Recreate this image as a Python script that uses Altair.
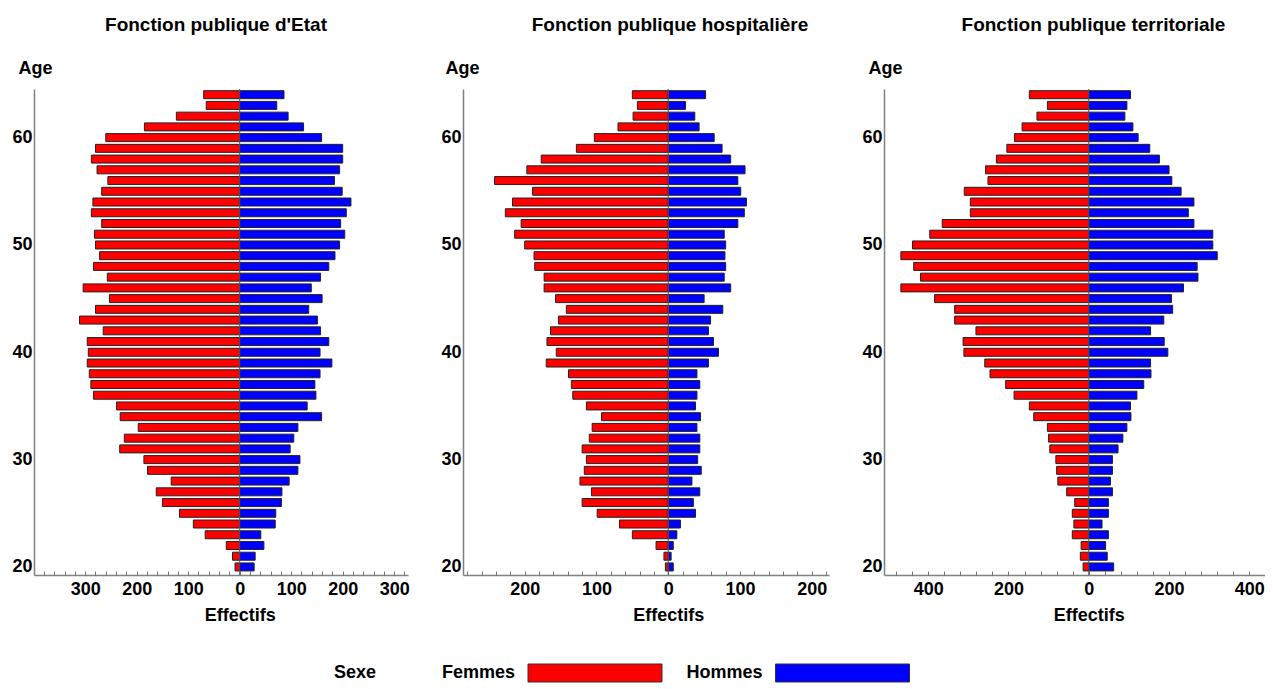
import altair as alt
import pandas as pd

ages = list(range(20, 65))
sexes = ["Femmes", "Hommes"]
colors = ["#FF0000", "#0000FF"]
legend_title = "Sexe"
panel_titles = ["Fonction publique d'Etat", "Fonction publique hospitalière", "Fonction publique territoriale"]
y_labels = [20, 30, 40, 50, 60]

# values by age, 20 -> 64
etat_f = [9, 14, 26, 67, 90, 117, 150, 162, 133, 179, 186, 233, 224, 197, 232, 239, 284, 289, 292, 296,
          294, 296, 265, 311, 280, 253, 304, 257, 284, 272, 280, 282, 268, 288, 285, 268, 256, 277, 288, 280,
          260, 185, 123, 65, 70]
etat_h = [28, 30, 47, 41, 69, 70, 81, 82, 96, 113, 117, 98, 105, 113, 159, 131, 148, 146, 156, 179,
          156, 173, 157, 151, 134, 160, 139, 157, 173, 185, 194, 204, 196, 207, 216, 199, 184, 194, 200, 200,
          159, 124, 94, 72, 86]
hosp_f = [4, 6, 17, 50, 68, 99, 120, 107, 123, 117, 114, 120, 110, 106, 93, 114, 133, 135, 139, 170,
          156, 169, 164, 153, 142, 157, 173, 173, 186, 187, 200, 214, 205, 227, 217, 189, 242, 197, 177, 128,
          103, 70, 49, 43, 50]
hosp_h = [7, 4, 7, 12, 17, 38, 35, 44, 33, 46, 41, 44, 44, 40, 45, 38, 40, 44, 40, 56,
          70, 63, 56, 59, 76, 50, 87, 78, 80, 79, 80, 78, 97, 106, 109, 101, 97, 107, 87, 75,
          64, 43, 37, 24, 52]
terr_f = [14, 21, 19, 41, 37, 41, 35, 55, 77, 80, 82, 97, 100, 103, 137, 148, 186, 207, 246, 259,
          311, 313, 281, 334, 334, 384, 468, 419, 436, 468, 439, 396, 365, 295, 295, 310, 251, 257, 230, 204,
          185, 166, 129, 103, 148]
terr_h = [62, 46, 42, 49, 33, 49, 49, 59, 54, 59, 59, 73, 85, 95, 105, 104, 120, 137, 155, 154,
          197, 188, 154, 187, 209, 206, 236, 272, 270, 320, 309, 309, 262, 248, 262, 230, 207, 200, 176, 152,
          123, 110, 90, 95, 104]

H = 486
Y_DOMAIN = [19.25, 64.53]
FONT = "Liberation Sans"
AXIS_GRAY = "#808080"


def panel(title, fem, hom, x_domain, width, major, minor, title_dx, age_x):
    df = pd.DataFrame({
        "Age": ages + ages,
        "Sexe": [sexes[0]] * len(ages) + [sexes[1]] * len(ages),
        "Effectif": [-v for v in fem] + list(hom),
    })
    xs = alt.Scale(domain=x_domain, nice=False, zero=False, padding=0)
    ys = alt.Scale(domain=Y_DOMAIN, nice=False, zero=False, padding=0)
    zero_px = width * (-x_domain[0]) / (x_domain[1] - x_domain[0])
    bars = alt.Chart(df).mark_bar(orient="horizontal", size=8, stroke="#222222", strokeWidth=1).encode(
        x=alt.X("Effectif:Q", scale=xs, stack=None,
                axis=alt.Axis(orient="bottom", values=major, labelExpr="abs(datum.value)",
                              ticks=False, tickSize=0, grid=False,
                              domainColor=AXIS_GRAY, domainWidth=1.5,
                              labelFontSize=18, labelFontWeight="bold", labelColor="black",
                              labelPadding=5, labelFont=FONT,
                              title="Effectifs", titleFontSize=18, titleFontWeight="bold",
                              titleColor="black", titleX=zero_px, titlePadding=8, titleFont=FONT)),
        y=alt.Y("Age:Q", scale=ys,
                axis=alt.Axis(values=y_labels, ticks=False, tickSize=0, grid=False,
                              domainColor=AXIS_GRAY, domainWidth=1.5,
                              labelFontSize=18, labelFontWeight="bold", labelColor="black",
                              labelPadding=2, labelFont=FONT,
                              title="Age", titleAngle=0, titleAlign="left", titleBaseline="middle",
                              titleX=age_x, titleY=-21, titleFontSize=18, titleFontWeight="bold",
                              titleColor="black", titleFont=FONT)),
        color=alt.Color("Sexe:N", scale=alt.Scale(domain=sexes, range=colors), legend=None),
    )
    zr = alt.Chart(pd.DataFrame({"Effectif": [0]})).mark_rule(color="#555555", strokeWidth=1).encode(
        x=alt.X("Effectif:Q", scale=xs,
                axis=alt.Axis(orient="top", offset=-H, labels=False, domain=False, ticks=True,
                              tickSize=4, tickColor="#777777", tickWidth=1, values=minor,
                              grid=False, title=None)),
    )
    return alt.layer(bars, zr).resolve_axis(x="independent").properties(
        width=width, height=H,
        title=alt.Title(title, fontSize=19, fontWeight="bold", anchor="middle", frame="group",
                        dx=title_dx, offset=24, color="black", font=FONT),
    )


p1 = panel(panel_titles[0], etat_f, etat_h, [-399.4, 326.8], 374,
           [-300, -200, -100, 0, 100, 200, 300], list(range(-380, 321, 20)), -5, -16)
p2 = panel(panel_titles[1], hosp_f, hosp_h, [-286, 224], 366,
           [-200, -100, 0, 100, 200], list(range(-280, 221, 20)), 24, -18)
p3 = panel(panel_titles[2], terr_f, terr_h, [-510, 439], 381,
           [-400, -200, 0, 200, 400], list(range(-480, 437, 40)), 19, -16)

leg_df = pd.DataFrame({"Sexe": sexes})
leg_x = alt.X("Sexe:N", scale=alt.Scale(type="point", domain=sexes, range=[561, 808.5], padding=0), axis=None)
sw = alt.Chart(leg_df).mark_bar(size=134, stroke="#333333", strokeWidth=1).encode(
    x=leg_x, y=alt.value(0), y2=alt.value(18),
    color=alt.Color("Sexe:N", scale=alt.Scale(domain=sexes, range=colors), legend=None),
)
lab = alt.Chart(leg_df).mark_text(align="right", baseline="middle", dx=-80, fontSize=18,
                                  fontWeight="bold", color="black", font=FONT).encode(
    x=leg_x, y=alt.value(9), text="Sexe:N")
ttl = alt.Chart(pd.DataFrame({"t": [legend_title]})).mark_text(
    align="left", baseline="middle", fontSize=18, fontWeight="bold", color="black", font=FONT).encode(
    x=alt.value(300), y=alt.value(9), text="t:N")
legend = alt.layer(sw, lab, ttl).properties(width=880, height=18)

top = alt.hconcat(alt.hconcat(p1, p2, spacing=30), p3, spacing=32)
chart = alt.vconcat(top, legend, spacing=39).configure(font=FONT).configure_view(stroke=None).properties(
    padding={"left": 3, "top": 8, "right": 0, "bottom": 0})

chart.save("out.html", embed_options={"renderer": "svg", "actions": False})
